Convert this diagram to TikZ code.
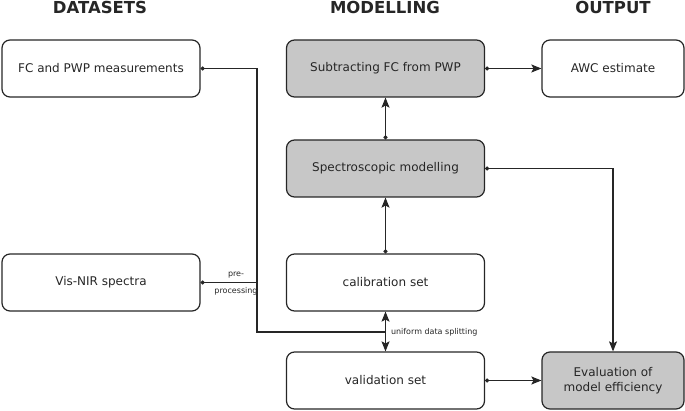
\documentclass[tikz,border=0pt]{standalone}
\usepackage{fontspec}
\setmainfont{DejaVu Sans}
\usetikzlibrary{arrows.meta,positioning}

\tikzset{
	box/.style={draw, rounded corners=8pt, line width=1.2pt, minimum height=57pt, align=center, font=\fontsize{12}{15}\selectfont},
	widebox/.style={box, minimum width=198pt},
	narrowbox/.style={box, minimum width=142pt},
	shaded/.style={fill=black!22},
	heading/.style={font=\fontsize{16.5}{18}\selectfont\bfseries},
	small/.style={font=\fontsize{8}{10}\selectfont},
	link/.style={line width=1.1pt, {Circle[length=4pt]}-{Stealth[length=10pt,width=8pt,inset=2pt]}},
	plain/.style={line width=1.1pt}
}

\begin{document}
\begin{tikzpicture}[x=1pt,y=1pt,color=black!85]
	\useasboundingbox (0,0) rectangle (685,-411);
	% headings
	\node[heading] (hdata) at (100,-7) {DATASETS};
	\node[heading] (hmodel) at (385,-7) {MODELLING};
	\node[heading] (hout) at (613,-7) {OUTPUT};
	% datasets
	\node[widebox] (fcpwp) at (101,-68.5) {FC and PWP measurements};
	\node[widebox] (visnir) at (101,-282.5) {Vis-NIR spectra};
	% modelling
	\node[widebox, shaded] (subtract) at (385.5,-68.5) {Subtracting FC from PWP};
	\node[widebox, shaded] (spectro) at (385.5,-168.5) {Spectroscopic modelling};
	\node[widebox] (calib) at (385.5,-282.5) {calibration set};
	\node[widebox] (valid) at (385.5,-380.5) {validation set};
	% output
	\node[narrowbox] (awc) at (613,-68.5) {AWC estimate};
	\node[narrowbox, shaded] (eval) at (613,-380.5) {Evaluation of\\model efficiency};
	% joints
	\coordinate (corner) at (257,-68.5);
	\coordinate (prep) at (257,-282.5);
	\coordinate (split) at (385.5,-332);
	\coordinate (turn) at (613,-168.5);
	% links
	\draw[plain, {Circle[length=4pt]}-] (fcpwp.east) -- (corner) |- (split);
	\draw[plain, {Circle[length=4pt]}-] (visnir.east) -- (prep);
	\node[small, above=1pt of prep, xshift=-21pt] (pre) {pre-};
	\node[small, below=1pt of prep, xshift=-21pt] (proc) {processing};
	\draw[line width=1.1pt, {Stealth[length=10pt,width=8pt,inset=2pt]}-{Stealth[length=10pt,width=8pt,inset=2pt]}] (calib.south) -- (valid.north);
	\node[small, right=2pt of split, anchor=west] (splitlbl) {uniform data splitting};
	\draw[link] (calib.north) -- (spectro.south);
	\draw[link] (spectro.north) -- (subtract.south);
	\draw[link] (subtract.east) -- (awc.west);
	\draw[link] (spectro.east) -- (turn) -- (eval.north);
	\draw[link] (valid.east) -- (eval.west);
\end{tikzpicture}
\end{document}
